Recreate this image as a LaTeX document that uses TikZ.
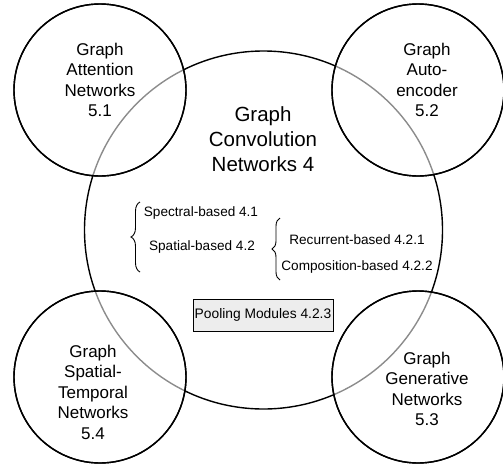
\documentclass[tikz,border=0pt]{standalone}
\usepackage{fontspec}
\setmainfont{Liberation Sans}
\usetikzlibrary{decorations.pathreplacing}
\tikzset{
  bigc/.style={draw=black, line width=1.4pt},
  smallc/.style={draw=black, line width=1.4pt, fill=white, fill opacity=0.55},
  smalltxt/.style={align=center, font=\fontsize{17}{20.5}\selectfont},
  bigtxt/.style={align=center, font=\fontsize{20.5}{25}\selectfont},
  subtxt/.style={font=\fontsize{13.6}{16}\selectfont, inner sep=0pt},
  bracestyle/.style={draw=black, line width=0.9pt, decorate, decoration={brace, amplitude=#1}},
  poolbox/.style={draw=black, line width=1pt, fill=black!7, minimum width=140pt, minimum height=32pt, inner sep=0pt, font=\fontsize{13.8}{16}\selectfont}
}
\begin{document}
\begin{tikzpicture}[x=1pt,y=-1pt]
\useasboundingbox (0,0) rectangle (503,466);
\draw[bigc] (263.5,230) circle[radius=179];
\foreach \cx/\cy in {100/90, 418/90, 100/377, 418/377}{
  \path[smallc] (\cx,\cy) circle[radius=86];
  \draw[line width=1.4pt] (\cx,\cy) circle[radius=86];
}
\node[smalltxt] (gat) at (100,80) {Graph\\Attention\\Networks\\5.1};
\node[smalltxt] (gae) at (427,80) {Graph\\Auto-\\encoder\\5.2};
\node[smalltxt] (gst) at (93,392) {Graph\\Spatial-\\Temporal\\Networks\\5.4};
\node[smalltxt] (ggn) at (427,389) {Graph\\Generative\\Networks\\5.3};
\node[bigtxt] (gcn) at (263,139) {Graph\\Convolution\\Networks 4};
\node[subtxt] (spec) at (201,213) {Spectral-based 4.1};
\node[subtxt] (spat) at (202,247) {Spatial-based 4.2};
\node[subtxt] (rec) at (357,240) {Recurrent-based 4.2.1};
\node[subtxt] (comp) at (357,267) {Composition-based 4.2.2};
\coordinate (b1a) at (140,272);
\coordinate (b1b) at (140,202);
\coordinate (b2a) at (280,280);
\coordinate (b2b) at (280,218);
\draw[bracestyle=9pt] (b1a) -- (b1b);
\draw[bracestyle=8pt] (b2a) -- (b2b);
\node[poolbox] (pool) at (263,315) {Pooling Modules 4.2.3};
\end{tikzpicture}
\end{document}
